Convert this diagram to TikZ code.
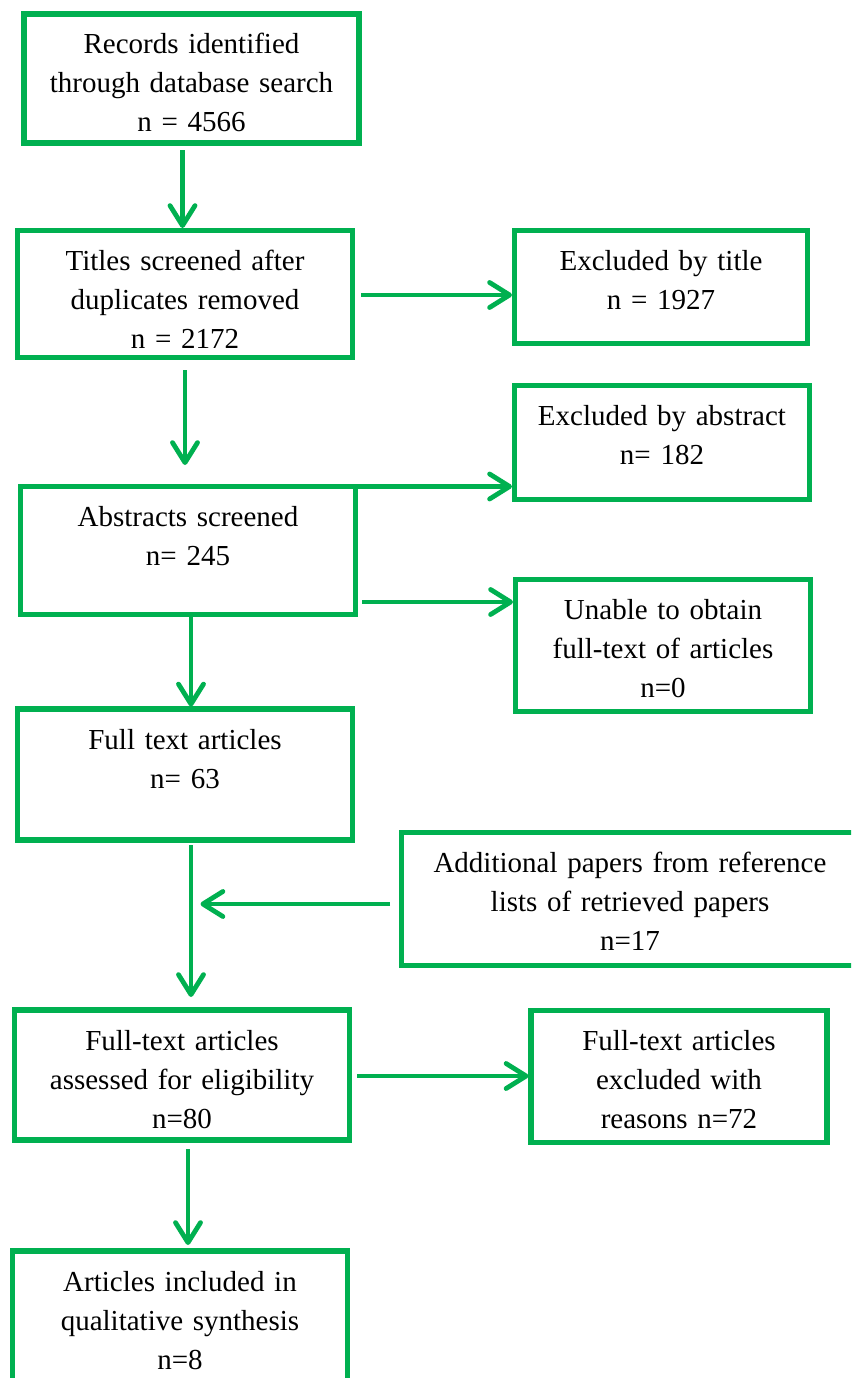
\documentclass[tikz,border=0pt]{standalone}
\usepackage{fontspec}
\setmainfont{Liberation Serif}
\usetikzlibrary{arrows.meta}

\definecolor{prismagreen}{RGB}{0,176,80}

\begin{document}
\begin{tikzpicture}[x=1pt, y=-1pt,
    box/.style={draw=prismagreen, line width=5.5pt, anchor=north west,
        inner xsep=0pt, inner ysep=0pt, outer sep=0pt, align=center,
        text height=40pt, font=\fontsize{29}{39}\selectfont},
    mainbox/.style={box, text width=335pt, minimum width=335pt},
    sidebox/.style={box, text width=295pt, minimum width=295pt},
    flow/.style={draw=prismagreen, line width=4.8pt, shorten >=2.5pt,
        -{Straight Barb[length=20pt,width=25pt,round]}}]

    % Page size and cropping
    \useasboundingbox (0,0) rectangle (851,1378);
    \clip (0,0) rectangle (851,1378);

    % Main column
    \node[mainbox, text depth=89pt] (recs) at (24,14)
        {Records identified\\through database search\\n = 4566};
    \node[mainbox, text depth=87pt] (titles) at (17.5,230.5)
        {Titles screened after\\duplicates removed\\n = 2172};
    \node[mainbox, text depth=88pt] (abstracts) at (20.5,486.5)
        {Abstracts screened\\n= 245};
    \node[mainbox, text depth=91pt] (fulltext) at (17.5,709)
        {Full text articles\\n= 63};
    \node[mainbox, text depth=90pt] (eligible) at (14.5,1010)
        {Full-text articles\\assessed for eligibility\\n=80};
    \node[mainbox, text depth=100pt] (included) at (12.5,1251)
        {Articles included in\\qualitative synthesis\\n=8};

    % Side boxes
    \node[sidebox, text depth=73pt, text width=293pt, minimum width=293pt] (extitle) at (514.5,230.5)
        {Excluded by title\\n = 1927};
    \node[sidebox, text depth=74pt] (exabstract) at (514.5,385.5)
        {Excluded by abstract\\n= 182};
    \node[sidebox, text depth=92pt] (unable) at (515.5,579.5)
        {Unable to obtain\\full-text of articles\\n=0};
    \node[box, text depth=93pt, text width=457pt, minimum width=457pt] (additional) at (401.5,832.5)
        {Additional papers from reference\\lists of retrieved papers\\n=17};
    \node[sidebox, text depth=92pt, text width=296pt, minimum width=296pt] (exreasons) at (531,1010.5)
        {Full-text articles\\excluded with\\reasons n=72};

    % Connectors
    \draw[flow] ([xshift=-9pt,yshift=-7pt]recs.south) -- ([xshift=-9pt]recs.south |- titles.north);
    \draw[flow] ([xshift=8.5pt,yshift=-64.5pt]titles.north east) -- ([yshift=-64.5pt]titles.north east -| extitle.west);
    \draw[flow] ([yshift=-12.5pt]titles.south) -- ([yshift=19pt]titles.south |- abstracts.north);
    \draw[flow] (abstracts.north east) -- (abstracts.north east -| exabstract.west);
    \draw[flow] ([xshift=6.5pt,yshift=-115.5pt]abstracts.north east) -- ([yshift=-115.5pt]abstracts.north east -| unable.west);
    \draw[flow] ([xshift=3pt]abstracts.south) -- ([xshift=3pt]abstracts.south |- fulltext.north);
    \draw[flow] ([xshift=6pt,yshift=-5pt]fulltext.south) -- ([xshift=6pt,yshift=10.5pt]fulltext.south |- eligible.north);
    \coordinate (join) at ([xshift=6pt]fulltext.south |- additional.west);
    \draw[flow] ([xshift=-11.5pt,yshift=-5pt]additional.west) -- ([xshift=7pt,yshift=-5pt]join);
    \draw[flow] ([xshift=7.5pt,yshift=-66pt]eligible.north east) -- ([yshift=-66pt]eligible.north east -| exreasons.west);
    \draw[flow] ([xshift=6pt,yshift=-9pt]eligible.south) -- ([xshift=6pt,yshift=3.5pt]eligible.south |- included.north);
\end{tikzpicture}
\end{document}
